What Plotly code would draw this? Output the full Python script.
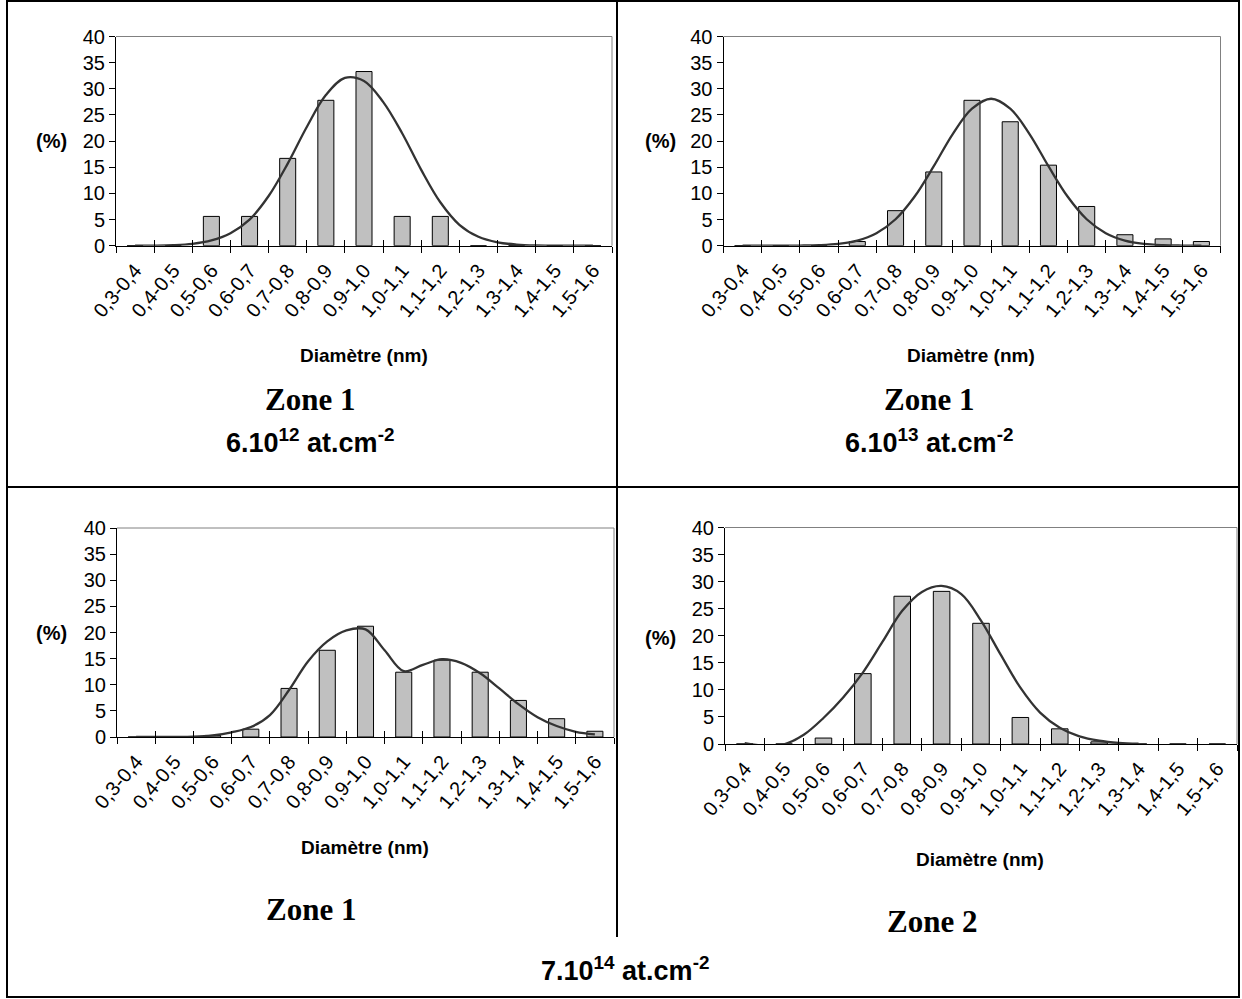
import plotly.graph_objects as go

W, H = 1242, 999

categories = ["0,3-0,4", "0,4-0,5", "0,5-0,6", "0,6-0,7", "0,7-0,8", "0,8-0,9",
              "0,9-1,0", "1,0-1,1", "1,1-1,2", "1,2-1,3", "1,3-1,4", "1,4-1,5", "1,5-1,6"]
y_tick_values = [0, 5, 10, 15, 20, 25, 30, 35, 40]

# bar heights (%) per panel
bars_zone1_6e12 = [0, 0, 5.6, 5.6, 16.7, 27.8, 33.3, 5.6, 5.6, 0, 0, 0, 0]
bars_zone1_6e13 = [0, 0, 0, 0.8, 6.7, 14.1, 27.8, 23.7, 15.4, 7.5, 2.1, 1.3, 0.8]
bars_zone1_7e14 = [0, 0, 0.3, 1.5, 9.3, 16.6, 21.2, 12.4, 14.7, 12.4, 7.0, 3.5, 1.1]
bars_zone2_7e14 = [0, 0, 1.1, 13.0, 27.3, 28.2, 22.3, 4.9, 2.8, 0.4, 0, 0, 0]

# fitted curves read at every half category (category index units)
curve_zone1_6e12 = [0.0, 0.02, 0.1, 0.35, 1.0, 2.4, 5.0, 9.5, 15.7, 22.7, 28.8, 32.1, 31.5,
                    27.5, 21.5, 14.5, 8.3, 4.0, 1.7, 0.65, 0.22, 0.06, 0.02, 0.0, 0.0]
curve_zone1_6e13 = [0.0, 0.0, 0.0, 0.03, 0.11, 0.35, 0.98, 2.4, 5.06, 9.4, 15.2, 21.4, 26.2,
                    28.1, 26.2, 21.4, 15.2, 9.4, 5.06, 2.4, 0.98, 0.35, 0.11, 0.03, 0.0]
curve_zone1_7e14 = [0.0, 0.0, 0.0, 0.05, 0.3, 0.9, 1.9, 4.2, 9.0, 14.5, 18.3, 20.4, 20.6,
                    16.6, 12.6, 13.8, 14.9, 14.2, 12.2, 9.3, 6.3, 3.8, 2.1, 1.0, 0.5]
curve_zone2_7e14 = [0.15, -0.3, -0.05, 1.7, 4.8, 8.6, 13.2, 18.9, 24.6, 28.1, 29.2, 27.7,
                    22.8, 16.5, 10.4, 5.8, 3.0, 1.4, 0.6, 0.2, 0.05]

zone_labels = ["Zone 1", "Zone 1", "Zone 1", "Zone 2"]
dose_labels = ["6.10<sup>12</sup> at.cm<sup>-2</sup>",
               "6.10<sup>13</sup> at.cm<sup>-2</sup>",
               "7.10<sup>14</sup> at.cm<sup>-2</sup>"]

SANS = "Liberation Sans, Arial, sans-serif"
SERIF = "Liberation Serif, Times New Roman, serif"


def px(x):
    return x / W


def py(y):
    return 1 - y / H


# panel boxes in pixels: left, right, top(40), bottom(0)
panels = [
    (116, 612, 36.5, 245.7),
    (723.5, 1220.5, 36.5, 245.7),
    (117, 614, 528, 737),
    (725, 1237, 527.5, 744),
]
bar_sets = [bars_zone1_6e12, bars_zone1_6e13, bars_zone1_7e14, bars_zone2_7e14]
curve_sets = [curve_zone1_6e12, curve_zone1_6e13, curve_zone1_7e14, curve_zone2_7e14]

n = len(categories)
centers = list(range(n))
bounds = [i - 0.5 for i in range(n + 1)]

fig = go.Figure()
layout = dict(
    template="none",
    width=W, height=H, autosize=False,
    margin=dict(l=0, r=0, t=0, b=0, pad=0, autoexpand=False),
    paper_bgcolor="white", plot_bgcolor="white",
    showlegend=False,
    font=dict(family=SANS, color="black"),
)
shapes = []
annotations = []

for i, (l, r, t, b) in enumerate(panels):
    xa = 2 * i + 1
    xb = 2 * i + 2
    ya = i + 1
    xa_name = "xaxis" if xa == 1 else f"xaxis{xa}"
    xb_name = f"xaxis{xb}"
    ya_name = "yaxis" if ya == 1 else f"yaxis{ya}"
    xa_ref = "x" if xa == 1 else f"x{xa}"
    xb_ref = f"x{xb}"
    ya_ref = "y" if ya == 1 else f"y{ya}"

    fig.add_trace(go.Bar(
        x=centers, y=bar_sets[i], width=0.42,
        marker=dict(color="#C0C0C0", line=dict(color="black", width=1)),
        xaxis=xa_ref, yaxis=ya_ref, hoverinfo="skip",
    ))
    cy = curve_sets[i]
    cx = [k / 2 for k in range(len(cy))]
    fig.add_trace(go.Scatter(
        x=cx, y=cy, mode="lines",
        line=dict(color="#333333", width=2.3, shape="spline", smoothing=1.0),
        xaxis=xb_ref, yaxis=ya_ref, hoverinfo="skip",
    ))

    layout[xa_name] = dict(
        domain=[px(l), px(r)], anchor=ya_ref, range=[-0.5, n - 0.5],
        tickmode="array", tickvals=centers, ticktext=categories,
        tickangle=-50, tickfont=dict(family=SANS, size=20, color="black"),
        ticks="", showline=True, linecolor="black", linewidth=1,
        showgrid=False, zeroline=False, fixedrange=True, automargin=False,
        ticklabelstandoff=4,
        minor=dict(tickmode="array", tickvals=bounds, ticks="outside",
                   ticklen=6, tickcolor="black", tickwidth=1, showgrid=False),
    )
    layout[xb_name] = dict(
        overlaying=xa_ref, anchor=ya_ref, range=[-0.5, n - 0.5],
        tickmode="array", tickvals=bounds, ticks="inside", ticklen=6,
        tickcolor="black", tickwidth=1, showticklabels=False, automargin=False,
        showline=False, showgrid=False, zeroline=False, fixedrange=True,
    )
    layout[ya_name] = dict(
        domain=[py(b), py(t)], anchor=xa_ref, range=[0, 40],
        tickmode="array", tickvals=y_tick_values,
        tickfont=dict(family=SANS, size=20, color="black"),
        ticks="outside", ticklen=6, tickcolor="black", automargin=False,
        showline=True, linecolor="black", linewidth=1,
        showgrid=False, zeroline=False, fixedrange=True,
    )
    # gray plot-area border (top and right)
    shapes.append(dict(type="line", xref=f"{xa_ref} domain", yref=f"{ya_ref} domain",
                       x0=0, x1=1, y0=1, y1=1, line=dict(color="#808080", width=1)))
    shapes.append(dict(type="line", xref=f"{xa_ref} domain", yref=f"{ya_ref} domain",
                       x0=1, x1=1, y0=0, y1=1, line=dict(color="#808080", width=1)))

# axis titles
pct_pos = [(51, 141), (660, 141), (51, 633), (660, 638)]
diam_pos = [(364, 356), (971, 356), (365, 847), (980, 859)]
for (x, y) in pct_pos:
    annotations.append(dict(x=px(x), y=py(y), xref="paper", yref="paper", text="<b>(%)</b>",
                            showarrow=False, font=dict(family=SANS, size=20, color="black"),
                            xanchor="center", yanchor="middle"))
for (x, y) in diam_pos:
    annotations.append(dict(x=px(x), y=py(y), xref="paper", yref="paper",
                            text="<b>Diamètre (nm)</b>", showarrow=False,
                            font=dict(family=SANS, size=19, color="black"),
                            xanchor="center", yanchor="middle"))

zone_pos = [(310, 399), (929, 399), (311, 909), (932, 921)]
for lab, (x, y) in zip(zone_labels, zone_pos):
    annotations.append(dict(x=px(x), y=py(y), xref="paper", yref="paper",
                            text=f"<b>{lab}</b>", showarrow=False,
                            font=dict(family=SERIF, size=31, color="black"),
                            xanchor="center", yanchor="middle"))
dose_pos = [(310, 441), (929, 441), (625, 969)]
for lab, (x, y) in zip(dose_labels, dose_pos):
    annotations.append(dict(x=px(x), y=py(y), xref="paper", yref="paper",
                            text=f"<b>{lab}</b>", showarrow=False,
                            font=dict(family=SANS, size=27, color="black"),
                            xanchor="center", yanchor="middle"))

# table frame
frame = dict(color="black", width=2)
shapes.append(dict(type="rect", xref="paper", yref="paper",
                   x0=px(7), x1=px(1239), y0=py(1), y1=py(997), line=frame))
shapes.append(dict(type="line", xref="paper", yref="paper",
                   x0=px(617), x1=px(617), y0=py(1), y1=py(937), line=frame))
shapes.append(dict(type="line", xref="paper", yref="paper",
                   x0=px(7), x1=px(1239), y0=py(487), y1=py(487), line=frame))

layout["shapes"] = shapes
layout["annotations"] = annotations
fig.update_layout(**layout)
fig.write_html("out.html",
               config={"displayModeBar": False, "staticPlot": True},
               post_script="document.body.style.margin='0';document.body.style.overflow='hidden';")
